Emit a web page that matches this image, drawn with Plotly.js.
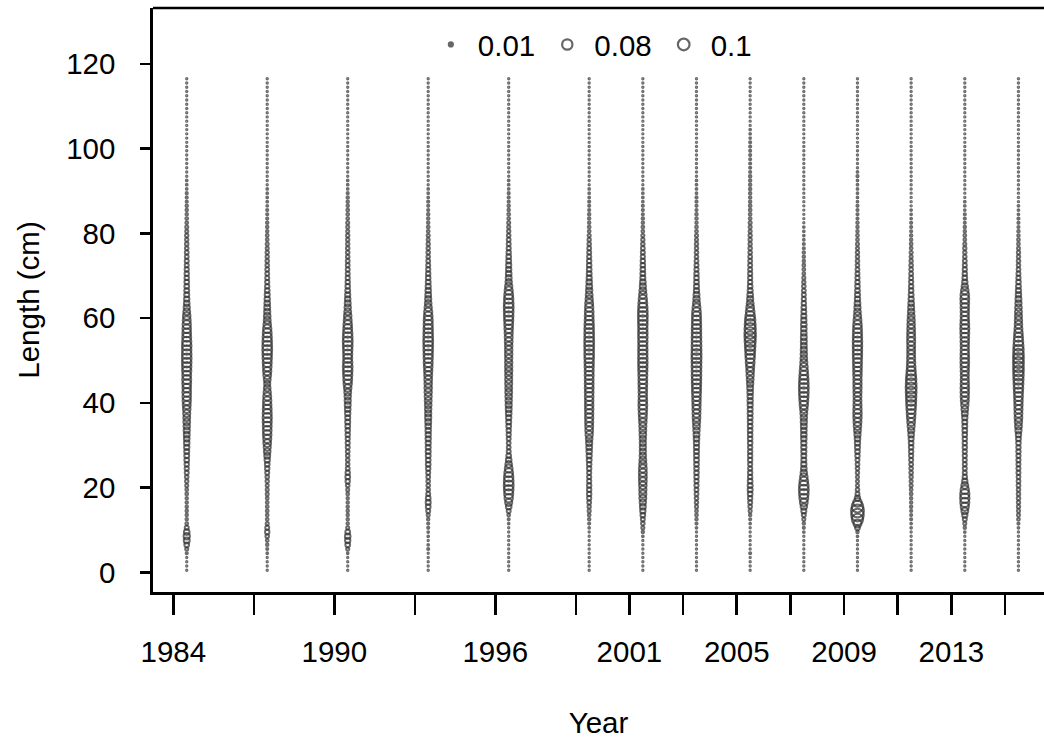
<!DOCTYPE html>
<html>
<head>
<meta charset="utf-8">
<script src="https://cdn.plot.ly/plotly-3.0.1.min.js"></script>
<style>
  html, body { margin: 0; padding: 0; background: #ffffff; overflow: hidden; }
  #chart { width: 1044px; height: 740px; }
</style>
</head>
<body>
<div id="chart"></div>
<script>
// Sample years (ticks) and length bins (cm, bin mid-points)
const years = [1984, 1987, 1990, 1993, 1996, 1999, 2001, 2003, 2005, 2007, 2009, 2011, 2013, 2015];
const yearLabels = ['1984', '', '1990', '', '1996', '', '2001', '', '2005', '', '2009', '', '2013', ''];
const lengths = [
  0.5, 1.5, 2.5, 3.5, 4.5, 5.5, 6.5, 7.5, 8.5, 9.5,
  10.5, 11.5, 12.5, 13.5, 14.5, 15.5, 16.5, 17.5, 18.5, 19.5,
  20.5, 21.5, 22.5, 23.5, 24.5, 25.5, 26.5, 27.5, 28.5, 29.5,
  30.5, 31.5, 32.5, 33.5, 34.5, 35.5, 36.5, 37.5, 38.5, 39.5,
  40.5, 41.5, 42.5, 43.5, 44.5, 45.5, 46.5, 47.5, 48.5, 49.5,
  50.5, 51.5, 52.5, 53.5, 54.5, 55.5, 56.5, 57.5, 58.5, 59.5,
  60.5, 61.5, 62.5, 63.5, 64.5, 65.5, 66.5, 67.5, 68.5, 69.5,
  70.5, 71.5, 72.5, 73.5, 74.5, 75.5, 76.5, 77.5, 78.5, 79.5,
  80.5, 81.5, 82.5, 83.5, 84.5, 85.5, 86.5, 87.5, 88.5, 89.5,
  90.5, 91.5, 92.5, 93.5, 94.5, 95.5, 96.5, 97.5, 98.5, 99.5,
  100.5, 101.5, 102.5, 103.5, 104.5, 105.5, 106.5, 107.5, 108.5, 109.5,
  110.5, 111.5, 112.5, 113.5, 114.5, 115.5, 116.5
];

// Length composition proportions per year, in thousandths (one value per length bin)
const comp1984 = [
  1,1,1,1,3,6,14,22,26,20, 10,5,4,4,4,4,4,4,5,5, 6,7,8,10,11,12,14,15,16,18,
  19,20,22,24,26,28,30,32,36,40, 44,46,48,46,50,52,50,54,56,58, 60,58,56,58,54,50,48,46,44,40,
  36,30,24,20,18,16,15,14,13,12, 12,11,10,10,9,9,8,8,7,7, 6,6,5,5,4,4,4,3,3,3,
  2,2,2,1,1,1,1,0,0,0, 0,0,0,0,0,0,0,0,0,0, 0,0,0,0,0,0,0
];
const comp1987 = [
  1,1,1,1,2,3,4,5,8,12, 10,6,5,5,5,5,5,5,6,6, 6,7,8,10,12,14,18,22,28,32,
  38,42,46,48,50,52,54,52,50,46, 44,40,34,28,24,30,38,44,48,52, 56,58,62,60,58,54,50,44,36,30,
  28,24,22,20,18,16,14,12,11,10, 9,9,8,8,7,7,6,6,5,5, 4,4,4,3,3,3,2,2,2,2,
  2,1,1,1,0,0,0,0,0,0, 0,0,0,0,0,0,0,0,0,0, 0,0,0,0,0,0,0
];
const comp1990 = [
  1,1,1,1,2,6,14,18,20,14, 6,4,4,4,4,4,4,4,5,6, 8,12,14,12,9,8,8,8,9,10,
  11,11,12,13,14,16,16,18,20,22, 24,26,30,36,44,50,54,58,60,56, 52,54,56,60,62,60,56,50,46,40,
  36,30,26,22,19,17,15,13,12,11, 10,10,9,9,8,8,8,7,7,7, 6,6,6,5,5,5,4,4,4,3,
  2,2,2,1,1,1,0,0,0,0, 0,0,0,0,0,0,0,0,0,0, 0,0,0,0,0,0,0
];
const comp1993 = [
  1,1,1,1,1,3,2,1,2,2, 3,3,4,6,10,14,16,14,10,8, 8,8,9,10,12,14,14,15,16,16,
  17,18,18,19,20,22,24,24,26,28, 30,32,34,36,36,38,40,44,48,52, 54,56,58,60,62,60,58,56,54,52,
  48,42,34,28,24,21,19,17,15,13, 12,11,10,9,8,8,7,7,6,6, 5,5,4,4,4,3,3,3,2,2,
  2,1,1,0,0,0,0,0,0,0, 0,0,0,0,0,0,0,0,0,0, 0,0,0,0,0,0,0
];
const comp1996 = [
  0,0,0,0,0,0,1,1,1,1, 1,2,3,5,10,20,32,44,52,58, 62,60,56,48,38,28,20,14,10,9,
  9,10,11,12,14,16,18,20,22,24, 26,28,30,30,32,32,32,34,34,34, 34,36,36,36,38,40,42,46,50,54,
  58,60,62,60,56,50,42,34,26,22, 20,18,17,15,14,12,11,10,9,8, 7,6,6,5,5,4,4,3,3,3,
  2,2,2,1,1,0,0,0,0,0, 0,0,0,0,0,0,0,0,0,0, 0,0,0,0,0,0,0
];
const comp1999 = [
  0,0,0,0,0,0,1,1,1,1, 2,3,4,5,6,7,9,11,12,12, 12,11,11,11,12,13,15,17,19,21,
  24,28,34,38,40,42,44,44,46,46, 46,48,48,50,50,50,52,52,54,56, 58,60,60,62,62,60,60,58,56,52,
  50,48,44,40,34,30,26,22,19,17, 15,14,13,12,11,10,9,8,7,6, 5,5,4,4,4,3,3,3,2,2,
  2,1,1,0,0,0,0,0,0,0, 0,0,0,0,0,0,0,0,0,0, 0,0,0,0,0,0,0
];
const comp2001 = [
  0,0,0,0,0,0,1,1,2,4, 6,8,10,14,18,22,26,30,32,34, 36,38,40,40,38,34,30,26,24,24,
  24,26,28,30,32,36,40,44,48,50, 48,46,46,48,50,50,52,54,56,58, 58,56,56,54,56,58,58,56,58,60,
  62,60,56,50,44,36,30,24,20,16, 15,14,13,12,11,10,9,8,7,6, 5,5,4,4,3,3,3,2,2,2,
  2,1,1,0,0,0,0,0,0,0, 0,0,0,0,0,0,0,0,0,0, 0,0,0,0,0,0,0
];
const comp2003 = [
  0,0,0,0,0,0,0,1,1,1, 2,3,4,5,5,6,7,8,9,10, 11,11,12,13,13,14,15,15,16,17,
  18,20,22,26,30,34,38,40,42,44, 46,48,52,54,56,58,60,60,62,62, 64,64,62,62,60,60,58,58,56,54,
  52,48,40,32,26,22,18,16,14,13, 12,11,10,9,8,8,7,7,6,6, 5,5,4,4,4,3,3,3,3,2,
  2,2,2,1,1,0,0,0,0,0, 0,0,0,0,0,0,0,0,0,0, 0,0,0,0,0,0,0
];
const comp2005 = [
  0,0,0,1,3,1,0,0,0,1, 1,2,3,4,6,8,10,12,14,16, 16,14,12,12,11,11,12,12,12,12,
  13,13,13,14,14,14,15,16,16,17, 18,18,20,22,26,30,34,38,42,50, 54,60,66,72,78,82,84,82,76,68,
  58,48,38,30,24,20,16,14,12,11, 11,10,10,9,9,8,8,7,7,7, 6,6,6,5,5,5,5,4,4,4,
  4,4,4,4,3,3,3,3,3,3, 3,3,2,2,2,1,0,0,0,0, 0,0,0,0,0,0,0
];
const comp2007 = [
  0,0,0,0,0,0,1,1,1,2, 3,4,6,10,16,26,38,50,58,62, 58,48,36,26,20,18,16,16,17,18,
  18,19,20,20,22,24,26,30,36,44, 50,56,60,62,60,56,50,44,38,32, 28,26,24,22,22,22,20,20,20,18,
  17,15,14,12,11,10,9,8,7,6, 5,5,5,4,4,4,3,3,2,2, 2,2,1,1,0,0,0,0,0,0,
  0,0,0,0,0,0,0,0,0,0, 0,0,0,0,0,0,0,0,0,0, 0,0,0,0,0,0,0
];
const comp2009 = [
  0,0,0,0,0,0,0,1,2,4, 14,40,80,100,104,84,46,18,10,8, 6,6,6,7,8,9,10,12,14,16,
  18,20,24,30,36,40,44,46,44,42, 40,40,42,44,44,44,46,48,50,52, 54,56,56,58,58,56,54,50,46,40,
  34,28,24,21,18,16,14,13,12,11, 10,9,8,8,7,7,6,6,5,5, 4,4,4,3,3,3,3,2,2,2,
  2,2,2,3,2,1,0,0,0,0, 0,0,0,0,0,0,0,0,0,0, 0,0,0,0,0,0,0
];
const comp2011 = [
  0,0,0,0,0,0,0,0,1,1, 2,2,3,3,3,4,4,4,5,5, 6,6,7,8,8,9,10,11,12,13,
  14,16,20,26,32,38,44,50,56,62, 66,70,74,76,74,70,62,54,48,44, 42,40,40,40,42,42,40,38,36,34,
  30,26,23,20,17,15,13,12,11,10, 9,8,8,7,6,6,5,5,4,4, 3,3,3,2,2,2,1,1,1,0,
  0,0,0,0,0,0,0,0,0,0, 0,0,0,0,0,0,0,0,0,0, 0,0,0,0,0,0,0
];
const comp2013 = [
  0,0,0,0,0,0,0,1,1,2, 4,6,10,18,30,42,52,56,54,44, 30,18,12,10,10,10,10,11,11,12,
  12,12,13,14,15,16,18,22,28,34, 40,44,46,46,44,42,42,44,46,48, 48,46,44,44,46,48,50,52,50,46,
  44,44,46,48,50,46,36,26,18,14, 12,11,10,9,8,7,7,6,5,5, 4,4,3,3,3,2,2,2,1,1,
  1,1,0,0,0,0,0,0,0,0, 0,0,0,0,0,0,0,0,0,0, 0,0,0,0,0,0,0
];
const comp2015 = [
  0,0,0,0,0,0,0,0,1,1, 2,3,5,6,6,7,7,8,8,8, 9,9,9,10,10,10,11,11,12,12,
  13,15,18,24,30,34,38,40,42,44, 46,50,54,58,62,66,70,72,74,76, 74,72,68,64,58,52,46,40,36,34,
  32,30,28,25,22,19,17,15,13,11, 10,9,8,8,7,7,6,5,5,4, 4,3,3,3,2,2,2,1,1,1,
  0,0,0,0,0,0,0,0,0,0, 0,0,0,0,0,0,0,0,0,0, 0,0,0,0,0,0,0
];
const compositions = [comp1984, comp1987, comp1990, comp1993, comp1996, comp1999, comp2001,
                      comp2003, comp2005, comp2007, comp2009, comp2011, comp2013, comp2015];

// Reference bubble sizes shown in the key
const legendValues = [0.01, 0.08, 0.1];
const legendLabels = ['0.01', '0.08', '0.1'];

// Bubble styling: diameter proportional to sqrt(proportion)
const MID_YEAR = 0.5;
const BUBBLE_SCALE = 40;
const MIN_SIZE = 1.4;
const INK = '#2e2e2e';
const KEY_INK = '#666666';
const FONT = 'Liberation Sans, Arial, Helvetica, sans-serif';
const FS = 29.5;

function bubbleSize(p) {
  return Math.max(MIN_SIZE, BUBBLE_SCALE * Math.sqrt(p));
}

const traces = [];
years.forEach((yr, k) => {
  const comp = compositions[k];
  traces.push({
    type: 'scatter',
    mode: 'markers',
    x: lengths.map(() => yr + MID_YEAR),
    y: lengths,
    marker: {
      symbol: 'circle-open',
      size: comp.map(v => bubbleSize(v / 1000)),
      color: INK,
      line: { width: 2, color: INK }
    },
    hoverinfo: 'skip',
    showlegend: false
  });
});

legendValues.forEach((v, k) => {
  traces.push({
    type: 'scatter',
    mode: 'markers',
    x: [null],
    y: [null],
    name: legendLabels[k],
    marker: {
      symbol: k === 0 ? 'circle' : 'circle-open',
      size: k === 0 ? 4 : bubbleSize(v) - 1,
      color: KEY_INK,
      line: { width: 2.2, color: KEY_INK }
    },
    showlegend: true
  });
});

const layout = {
  width: 1044,
  height: 740,
  margin: { l: 153, r: 0, t: 8, b: 148 },
  paper_bgcolor: '#ffffff',
  plot_bgcolor: '#ffffff',
  font: { family: FONT, size: FS, color: '#000000' },
  showlegend: true,
  legend: {
    orientation: 'h',
    x: 0.304,
    xanchor: 'left',
    y: 0.937,
    yanchor: 'middle',
    bgcolor: 'rgba(0,0,0,0)',
    borderwidth: 0,
    itemwidth: 44,
    font: { family: FONT, size: FS, color: '#000000' }
  },
  xaxis: {
    range: [1983.243, 2016.452],
    tickmode: 'array',
    tickvals: years,
    ticktext: yearLabels,
    ticks: 'outside',
    ticklen: 20,
    tickwidth: 2.5,
    tickcolor: '#000000',
    ticklabelstandoff: 12,
    showline: true,
    linewidth: 2.7,
    linecolor: '#000000',
    showgrid: false,
    zeroline: false,
    tickfont: { family: FONT, size: FS },
    title: { text: 'Year', standoff: 46, font: { family: FONT, size: FS } },
    automargin: false
  },
  yaxis: {
    range: [-4.65, 133.21],
    tickmode: 'array',
    tickvals: [0, 20, 40, 60, 80, 100, 120],
    ticks: 'outside',
    ticklen: 10,
    tickwidth: 2.5,
    tickcolor: '#000000',
    ticklabelstandoff: 19,
    showline: true,
    linewidth: 2.7,
    linecolor: '#000000',
    showgrid: false,
    zeroline: false,
    tickfont: { family: FONT, size: FS },
    title: { text: 'Length (cm)', standoff: 18, font: { family: FONT, size: FS } },
    automargin: false
  },
  shapes: [
    { type: 'line', xref: 'paper', yref: 'paper', x0: 0, x1: 1, y0: 1, y1: 1,
      line: { color: '#000000', width: 2.7 } }
  ]
};

Plotly.newPlot('chart', traces, layout, { staticPlot: true, displayModeBar: false });
</script>
</body>
</html>
